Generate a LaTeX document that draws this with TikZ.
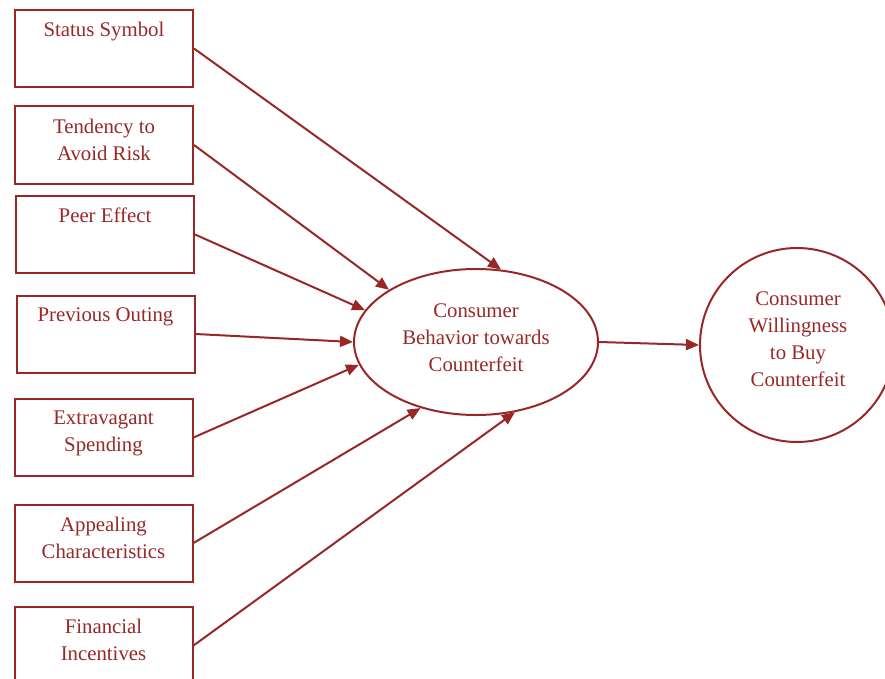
\documentclass[tikz,border=0pt]{standalone}
\usepackage{fontspec}
\setmainfont{Liberation Serif}
\usetikzlibrary{shapes.geometric,arrows.meta}
\definecolor{dred}{RGB}{152,40,40}
\begin{document}
\begin{tikzpicture}[x=1pt,y=-1pt,
  every node/.style={text=dred,font=\fontsize{20.8pt}{27pt}\selectfont},
  box/.style={draw=dred,line width=2pt,minimum width=178pt,minimum height=77pt,inner sep=0pt},
  boxtext/.style={anchor=north,align=center,inner sep=0pt,yshift=-13pt},
  conn/.style={draw=dred,line width=2pt,-{Triangle[length=13pt,width=11pt]}}]
\useasboundingbox (0,0) rectangle (885,679);
\node[box] (b1) at (104,48.5) {};
\node[box] (b2) at (104,145) {};
\node[box] (b3) at (105,234.5) {};
\node[box] (b4) at (105.5,334) {};
\node[box] (b5) at (103.5,437.5) {};
\node[box] (b6) at (103.5,543) {};
\node[box] (b7) at (103.5,645.5) {};
\node[boxtext] (t1) at (b1.north) {Status Symbol};
\node[boxtext] (t2) at (b2.north) {Tendency to\\Avoid Risk};
\node[boxtext] (t3) at (b3.north) {Peer Effect};
\node[boxtext] (t4) at (b4.north) {Previous Outing};
\node[boxtext] (t5) at (b5.north) {Extravagant\\Spending};
\node[boxtext] (t6) at (b6.north) {Appealing\\Characteristics};
\node[boxtext] (t7) at (b7.north) {Financial\\Incentives};
\node[draw=dred,line width=2pt,ellipse,minimum width=244pt,minimum height=146pt,inner sep=0pt] (cb) at (476,342) {};
\node[align=center,inner sep=0pt] (cbt) at (476,338) {Consumer\\Behavior towards\\Counterfeit};
\node[draw=dred,line width=2pt,circle,minimum size=194pt,inner sep=0pt] (cw) at (797,345) {};
\node[align=center,inner sep=0pt] (cwt) at (798,339) {Consumer\\Willingness\\to Buy\\Counterfeit};
\draw[conn] (b1.east) -- (cb.71);
\draw[conn] (b2.east) -- (cb.149);
\draw[conn] (b3.east) -- (cb.164);
\draw[conn] (b4.east) -- (cb.180);
\draw[conn] (b5.east) -- (cb.191);
\draw[conn] (b6.east) -- (cb.230);
\draw[conn] (b7.east) -- (cb.299);
\draw[conn] (cb.east) -- (cw.west);
\end{tikzpicture}
\end{document}
